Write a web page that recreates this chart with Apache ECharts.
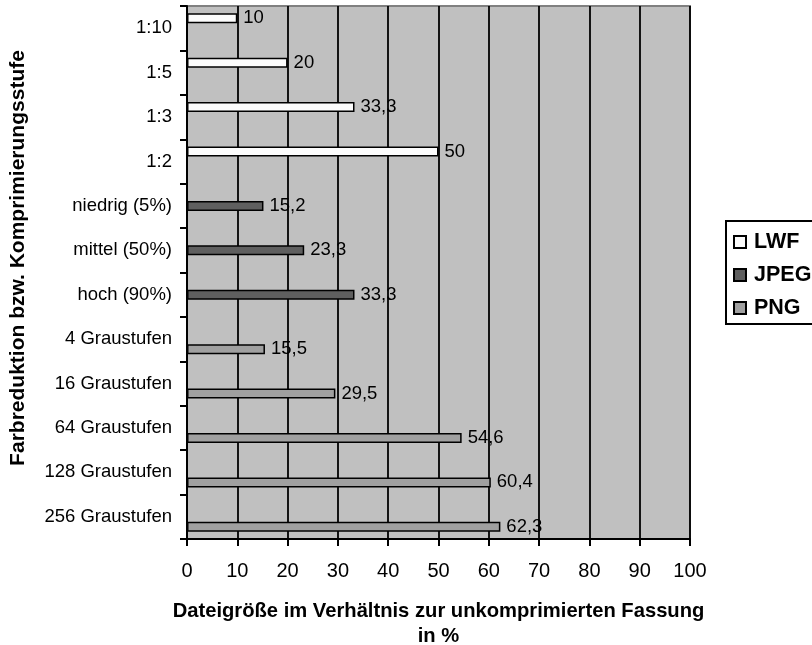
<!DOCTYPE html>
<html>
<head>
<meta charset="utf-8">
<script src="https://cdn.jsdelivr.net/npm/echarts@6/dist/echarts.min.js"></script>
<style>
  html, body { margin: 0; padding: 0; background: #ffffff; }
  #chart { width: 812px; height: 645px; }
</style>
</head>
<body>
<div id="chart"></div>
<script>
// Compression levels / colour reductions, top to bottom
const categories = [
  '1:10', '1:5', '1:3', '1:2',
  'niedrig (5%)', 'mittel (50%)', 'hoch (90%)',
  '4 Graustufen', '16 Graustufen', '64 Graustufen', '128 Graustufen', '256 Graustufen'
];

// File size relative to the uncompressed version, in percent (null = not applicable)
const lwfValues  = [10, 20, 33.3, 50, null, null, null, null, null, null, null, null];
const jpegValues = [null, null, null, null, 15.2, 23.3, 33.3, null, null, null, null, null];
const pngValues  = [null, null, null, null, null, null, null, 15.5, 29.5, 54.6, 60.4, 62.3];

const xTicks = { min: 0, max: 100, interval: 10 };

const FONT = "'Liberation Sans', Arial, sans-serif";

const fmt = v => String(v).replace('.', ',');

function barSeries(name, data, color) {
  return {
    name: name,
    type: 'bar',
    data: data,
    barWidth: 10,
    barGap: '0%',
    itemStyle: { color: color, borderColor: '#000000', borderWidth: 1.5 },
    label: {
      show: true,
      position: 'right',
      distance: 6,
      color: '#000000',
      fontFamily: FONT,
      fontSize: 18.5,
      formatter: p => fmt(p.value)
    },
    emphasis: { disabled: true },
    animation: false
  };
}

const chart = echarts.init(document.getElementById('chart'), null, { renderer: 'canvas' });

chart.setOption({
  backgroundColor: '#ffffff',
  animation: false,
  grid: {
    left: 187, right: 122, top: 6, bottom: 106,
    containLabel: false,
    outerBoundsMode: 'none',
    show: true,
    backgroundColor: '#c0c0c0',
    borderColor: '#808080',
    borderWidth: 2
  },
  legend: {
    orient: 'vertical',
    left: 726, top: 221,
    padding: [10, 20, 5, 7],
    itemWidth: 12, itemHeight: 12,
    itemGap: 11,
    borderColor: '#000000', borderWidth: 2,
    icon: 'rect',
    textStyle: { fontFamily: FONT, fontSize: 21.5, fontWeight: 'bold', color: '#000000', padding: [0, 0, 0, 3] },
    data: ['LWF', 'JPEG', 'PNG']
  },
  xAxis: {
    type: 'value',
    min: xTicks.min, max: xTicks.max, interval: xTicks.interval,
    axisLine: { show: true, lineStyle: { color: '#000000', width: 2 } },
    axisTick: { show: true, length: 7, lineStyle: { color: '#000000', width: 2 } },
    axisLabel: { color: '#000000', fontFamily: FONT, fontSize: 20, margin: 22 },
    splitLine: { show: true, lineStyle: { color: '#000000', width: 1.8 } },
    name: 'Dateigröße im Verhältnis zur unkomprimierten Fassung\nin %',
    nameLocation: 'middle',
    nameGap: 60,
    nameTextStyle: { fontFamily: FONT, fontSize: 20.2, fontWeight: 'bold', color: '#000000', lineHeight: 25, verticalAlign: 'top' }
  },
  yAxis: {
    type: 'category',
    data: categories,
    inverse: true,
    axisLine: { show: true, lineStyle: { color: '#000000', width: 2 } },
    axisTick: { show: true, length: 7, lineStyle: { color: '#000000', width: 2 } },
    axisLabel: { color: '#000000', fontFamily: FONT, fontSize: 18.5, margin: 15 },
    splitLine: { show: false }
  },
  graphic: [{
    type: 'text',
    x: 18, y: 258,
    rotation: Math.PI / 2,
    style: {
      text: 'Farbreduktion bzw. Komprimierungsstufe',
      fontFamily: FONT, fontSize: 21, fontWeight: 'bold', fill: '#000000',
      textAlign: 'center', textVerticalAlign: 'middle'
    }
  }],
  series: [
    barSeries('LWF', lwfValues, '#fcfcfc'),
    barSeries('JPEG', jpegValues, '#5f5f5f'),
    barSeries('PNG', pngValues, '#a0a0a0')
  ]
});
</script>
</body>
</html>
